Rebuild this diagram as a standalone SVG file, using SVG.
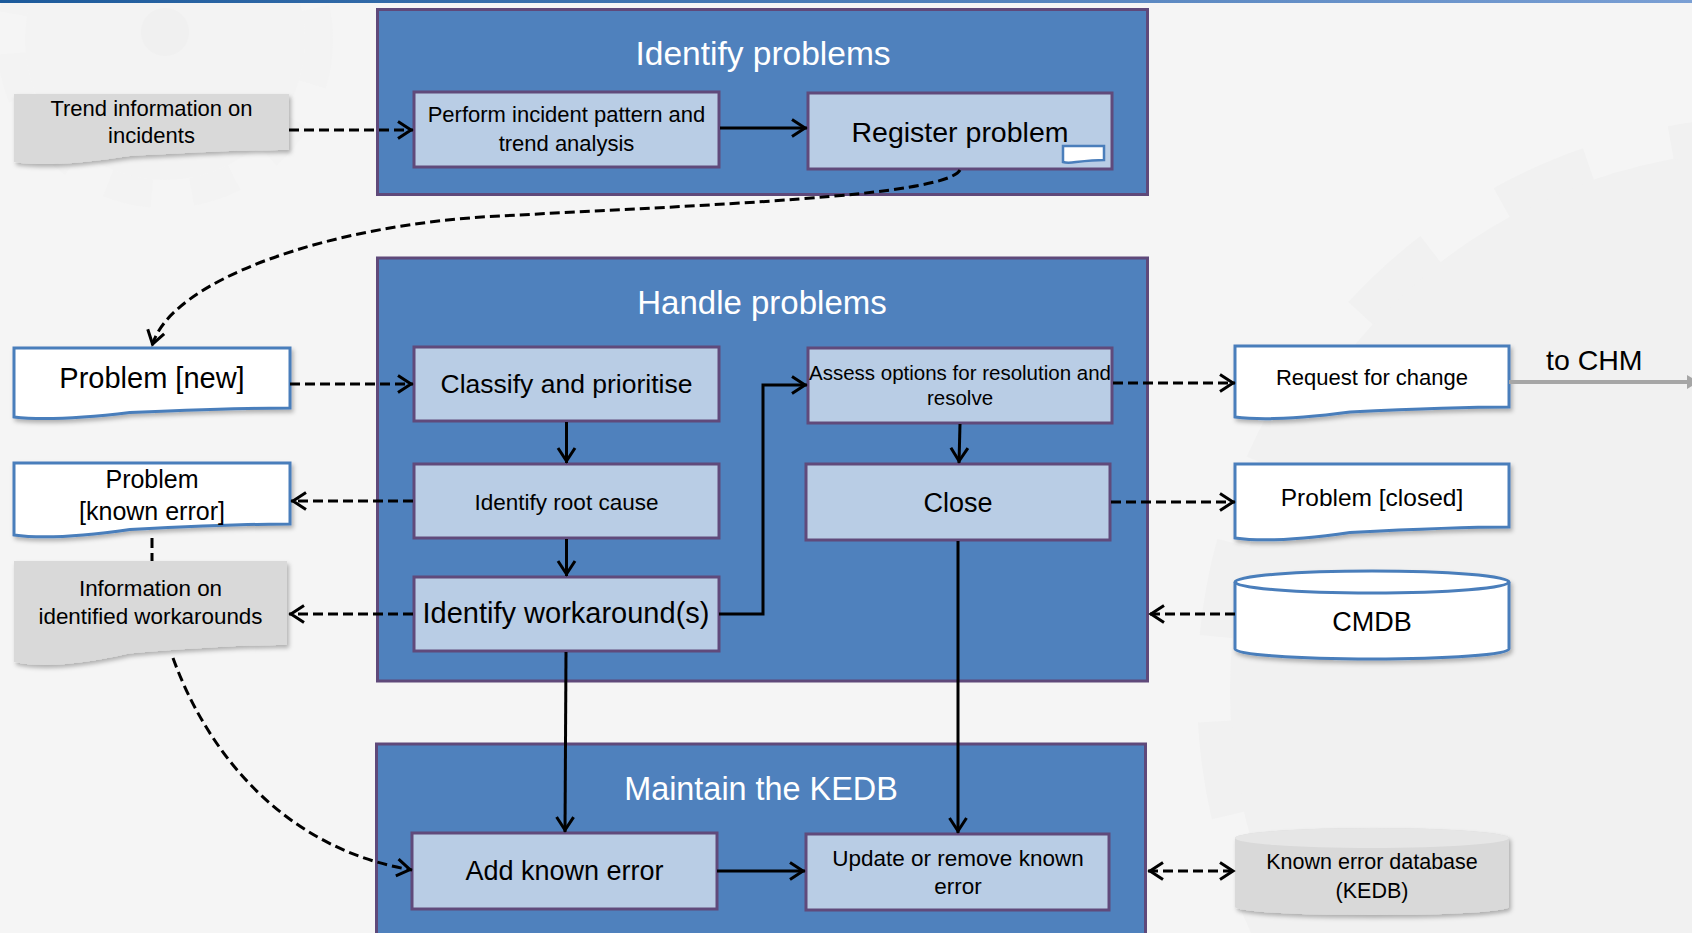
<svg xmlns="http://www.w3.org/2000/svg" width="1692" height="933" viewBox="0 0 1692 933">
<defs>
<style>
text{font-family:"Liberation Sans",Arial,sans-serif;fill:#000;text-anchor:middle}
.title{fill:#fff}
.cont{fill:#4f81bd;stroke:#5f497a;stroke-width:3}
.box{fill:#b9cde5;stroke:#604a7b;stroke-width:3}
.doc{fill:#fff;stroke:#4a7ebb;stroke-width:3;filter:url(#sh)}
.gdoc{fill:#d9d9d9;stroke:none;filter:url(#sh)}
.dash{fill:none;stroke:#000;stroke-width:3;stroke-dasharray:10 5}
.solid{fill:none;stroke:#000;stroke-width:3}
</style>
<linearGradient id="topbar" x1="0" y1="0" x2="1" y2="0">
<stop offset="0" stop-color="#1c5a9b"/>
<stop offset="1" stop-color="#7a9fd4"/>
</linearGradient>
<filter id="sh" x="-10%" y="-10%" width="125%" height="140%">
<feDropShadow dx="2" dy="3" stdDeviation="2" flood-color="#000" flood-opacity="0.28"/>
</filter>
<marker id="ah" viewBox="-18 -11 20 22" refX="0" refY="0" markerWidth="20" markerHeight="22" markerUnits="userSpaceOnUse" orient="auto-start-reverse">
<path d="M-15,-8.5 L-2,0 L-15,8.5" fill="none" stroke="#000" stroke-width="3"/>
</marker>
<marker id="ahg" viewBox="-14 -9 16 18" refX="0" refY="0" markerWidth="16" markerHeight="18" markerUnits="userSpaceOnUse" orient="auto">
<path d="M-12,-7 L0,0 L-12,7 Z" fill="#a6a6a6"/>
</marker>
</defs>

<rect x="0" y="0" width="1692" height="933" fill="#f5f5f5"/>
<g id="background-gears">
<circle cx="1770" cy="690" r="540" fill="#f1f1f1"/>
<circle cx="1770" cy="690" r="556" fill="none" stroke="#f1f1f1" stroke-width="34" stroke-dasharray="95 85"/>
<circle cx="165" cy="40" r="140" fill="#f3f3f3"/>
<circle cx="165" cy="40" r="154" fill="none" stroke="#f3f3f3" stroke-width="28" stroke-dasharray="45 40"/>
<circle cx="165" cy="32" r="24" fill="#f0f0f0"/>
</g>
<rect x="0" y="0" width="1692" height="3" fill="url(#topbar)"/>

<g id="identify-problems">
<rect class="cont" x="377.5" y="9.5" width="770" height="185"/>
<text class="title" x="763" y="65" font-size="33.5">Identify problems</text>
</g>
<g id="handle-problems">
<rect class="cont" x="377.5" y="258" width="770" height="423"/>
<text class="title" x="762" y="314" font-size="33">Handle problems</text>
</g>
<g id="maintain-kedb">
<rect class="cont" x="376.5" y="744" width="769" height="200"/>
<text class="title" x="761" y="800" font-size="32.4">Maintain the KEDB</text>
</g>

<g id="perform-analysis">
<rect class="box" x="414" y="92" width="305" height="75"/>
<text x="566.5" y="121.5" font-size="22">Perform incident pattern and</text>
<text x="566.5" y="151" font-size="22">trend analysis</text>
</g>
<g id="register-problem">
<rect class="box" x="808" y="93" width="304" height="76"/>
<text x="960" y="141.5" font-size="28.5">Register problem</text>
<path d="M1063,146 H1104 V160 C1094,160 1085,161 1076,162 C1070,163 1066,163 1063,162 Z" fill="#fff" stroke="#4a7ebb" stroke-width="2.5"/>
</g>
<g id="classify">
<rect class="box" x="414" y="347" width="305" height="74"/>
<text x="566.5" y="393" font-size="26.5">Classify and prioritise</text>
</g>
<g id="root-cause">
<rect class="box" x="414" y="464" width="305" height="74"/>
<text x="566.5" y="510" font-size="22.5">Identify root cause</text>
</g>
<g id="workarounds">
<rect class="box" x="414" y="577" width="305" height="74"/>
<text x="566" y="623" font-size="29">Identify workaround(s)</text>
</g>
<g id="assess-options">
<rect class="box" x="808" y="348" width="304" height="75"/>
<text x="960" y="380" font-size="20.5">Assess options for resolution and</text>
<text x="960" y="405" font-size="20.5">resolve</text>
</g>
<g id="close">
<rect class="box" x="806" y="464" width="304" height="76"/>
<text x="958" y="512" font-size="27">Close</text>
</g>
<g id="add-known-error">
<rect class="box" x="412" y="833" width="305" height="76"/>
<text x="564.5" y="880" font-size="27">Add known error</text>
</g>
<g id="update-known-error">
<rect class="box" x="806" y="834" width="303" height="76"/>
<text x="958" y="866" font-size="22.5">Update or remove known</text>
<text x="958" y="894" font-size="22.5">error</text>
</g>

<g id="trend-info">
<path class="gdoc" d="M14,94 H289 V150 C253,150 212,151.2 129.5,156 C80,163.8 41.5,166.2 14,162 Z"/>
<text x="151.5" y="116" font-size="22">Trend information on</text>
<text x="151.5" y="143" font-size="22">incidents</text>
</g>
<g id="problem-new">
<path class="doc" d="M14,348 H290 V408 C254,408 212.7,408.9 130,412.5 C80,418.4 41.6,420.2 14,417 Z"/>
<text x="152" y="388" font-size="29">Problem [new]</text>
</g>
<g id="problem-known-error">
<path class="doc" d="M14,463 H290 V524 C254,524 212.7,525.1 130,529.5 C80,536.7 41.6,538.9 14,535 Z"/>
<text x="152" y="488" font-size="25">Problem</text>
<text x="152" y="520" font-size="25">[known error]</text>
</g>
<g id="workaround-info">
<path class="gdoc" d="M14,561 H287 V645 C251.5,645 210.6,646.7 128.7,653.5 C79.5,664.6 41.3,668 14,662 Z"/>
<text x="150.5" y="596" font-size="22.4">Information on</text>
<text x="150.5" y="624" font-size="22.4">identified workarounds</text>
</g>
<g id="request-for-change">
<path class="doc" d="M1235,346 H1509 V407 C1473.4,407 1432.3,408 1350.1,412 C1300.8,418.5 1262.4,420.5 1235,417 Z"/>
<text x="1372" y="385" font-size="22">Request for change</text>
</g>
<g id="problem-closed">
<path class="doc" d="M1235,464 H1509 V527 C1473.4,527 1432.3,528.1 1350.1,532.5 C1300.8,539.7 1262.4,541.9 1235,538 Z"/>
<text x="1372" y="505.5" font-size="24.5">Problem [closed]</text>
</g>
<g id="cmdb">
<path d="M1235,582 V649 A137,10 0 0 0 1509,649 V582 A137,11 0 0 0 1235,582 Z" fill="#fff" stroke="#4a7ebb" stroke-width="3" filter="url(#sh)"/>
<path d="M1235,582 A137,11 0 0 0 1509,582" fill="none" stroke="#4a7ebb" stroke-width="3"/>
<text x="1372" y="630.5" font-size="27">CMDB</text>
</g>
<g id="kedb">
<path d="M1235,838 V907 A137,8 0 0 0 1509,907 V838 A137,10 0 0 0 1235,838 Z" fill="#d9d9d9" filter="url(#sh)"/>
<ellipse cx="1372" cy="838" rx="137" ry="10" fill="#e6e6e6"/>
<text x="1372" y="869" font-size="21.5">Known error database</text>
<text x="1372" y="898" font-size="21.5">(KEDB)</text>
</g>
<g id="to-chm">
<text x="1546" y="370" font-size="28.5" style="text-anchor:start">to CHM</text>
</g>

<g id="connectors">
<path class="dash" d="M289,130 H413" marker-end="url(#ah)"/>
<path class="dash" d="M960,170 C945,197 700,205 500,216 C330,224 170,280 152,346" marker-end="url(#ah)"/>
<path class="dash" d="M290,384 H413" marker-end="url(#ah)"/>
<path class="dash" d="M413,501 H291" marker-end="url(#ah)"/>
<path class="dash" d="M152,538 V561"/>
<path class="dash" d="M413,614 H289" marker-end="url(#ah)"/>
<path class="dash" d="M173,658 C210,760 290,850 412,870" marker-end="url(#ah)"/>
<path class="dash" d="M1113,383 H1235" marker-end="url(#ah)"/>
<path class="dash" d="M1111,502 H1235" marker-end="url(#ah)"/>
<path class="dash" d="M1235,614 H1149" marker-end="url(#ah)"/>
<path class="dash" d="M1148,871 H1235" marker-start="url(#ah)" marker-end="url(#ah)"/>
<path class="solid" d="M720,128 H807" marker-end="url(#ah)"/>
<path class="solid" d="M566.5,422 V463" marker-end="url(#ah)"/>
<path class="solid" d="M566.5,539 V576" marker-end="url(#ah)"/>
<path class="solid" d="M719,614 H763 V385 H807" marker-end="url(#ah)"/>
<path class="solid" d="M960,424 L959,463" marker-end="url(#ah)"/>
<path class="solid" d="M566,652 L565,832" marker-end="url(#ah)"/>
<path class="solid" d="M958,541 V833" marker-end="url(#ah)"/>
<path class="solid" d="M717,871 H805" marker-end="url(#ah)"/>
<path d="M1509,382 H1699" fill="none" stroke="#a6a6a6" stroke-width="4" marker-end="url(#ahg)"/>
</g>
</svg>
